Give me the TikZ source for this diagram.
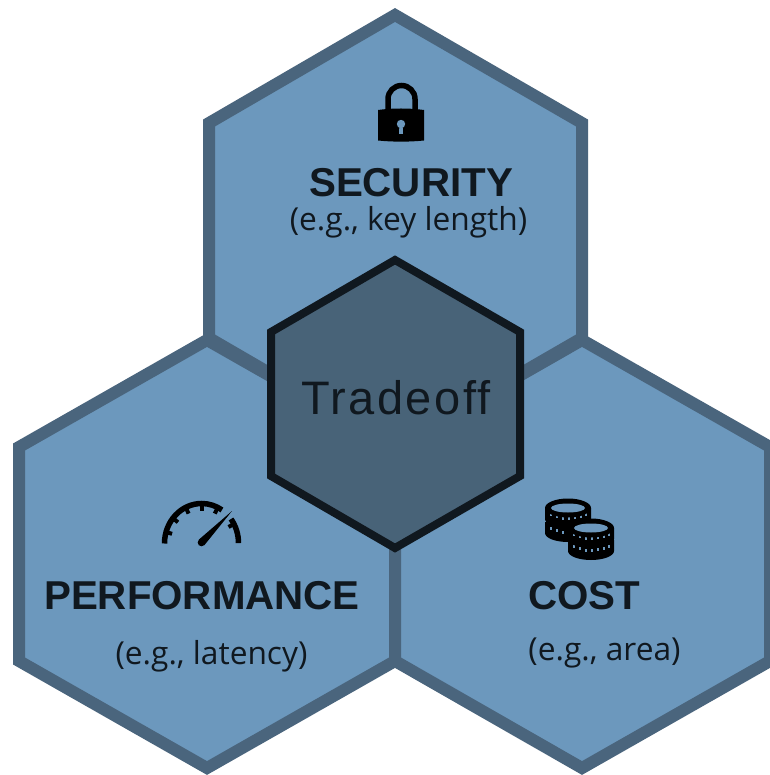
\documentclass[tikz,border=0pt]{standalone}
\usepackage{fontspec}
\setmainfont{Open Sans}
\newfontfamily\headfont{Liberation Sans}
\newfontfamily\tradefont[LetterSpace=5.2]{Liberation Sans}
\definecolor{hexfill}{HTML}{6C98BD}
\definecolor{hexline}{HTML}{4A657D}
\definecolor{midfill}{HTML}{486378}
\definecolor{ink}{HTML}{10181F}
\tikzset{
  hexa/.style={fill=hexfill,draw=hexline,line width=12pt,line join=miter,miter limit=10},
  midhex/.style={fill=midfill,draw=ink,line width=8pt,line join=miter,miter limit=10},
  headtext/.style={text=ink,inner sep=0pt,font=\headfont\fontsize{40.3}{40}\selectfont\bfseries},
  subtext/.style={text=ink,inner sep=0pt,font=\fontsize{31.7}{34}\selectfont},
  midtext/.style={text=ink,inner sep=0pt,font=\tradefont\fontsize{47}{47}\selectfont},
  iconfill/.style={fill=black,draw=none}
}
\newcommand{\coinband}[2]{%
  \fill[black] (#1-23,#2) -- (#1-23,#2+11) arc[x radius=23,y radius=9,start angle=180,end angle=0] -- (#1+23,#2) -- cycle;
  \foreach \dx/\dy in {-17/2.5,-11/5,-5/6.2,1/6.5,7/6,13/4.5,18/2.5}
    \fill[hexfill] (#1+\dx-1.4,#2+\dy+2.4) rectangle ++(2.8,3);
}
\newcommand{\cointop}[2]{%
  \fill[black] (#1,#2) ellipse[x radius=23,y radius=9.5];
  \fill[hexfill] (#1,#2) ellipse[x radius=17,y radius=4.5];
}
\begin{document}
\begin{tikzpicture}[x=1pt,y=-1pt]
\useasboundingbox (0,0) rectangle (769,775);
\fill[white] (0,0) rectangle (769,775);
% outer hexagons
\draw[hexa] (395,15) -- (582,123) -- (582,338) -- (395,446) -- (209,338) -- (209,123) -- cycle;
\draw[hexa] (207,340) -- (395,447) -- (395,661) -- (207,768) -- (19,661) -- (19,447) -- cycle;
\draw[hexa] (582,340) -- (770,447) -- (770,661) -- (582,768) -- (395,661) -- (395,447) -- cycle;
% centre hexagon
\draw[midhex] (395,260) -- (520,332) -- (520,476) -- (395,548) -- (271,476) -- (271,332) -- cycle;
% texts
\node[midtext] (trade) at (396,398) {Tradeoff};
\node[headtext] (sec) at (411,183) {SECURITY};
\node[subtext] (secsub) at (408.5,222) {(e.g., key length)};
\node[headtext] (perf) at (202,596) {PERFORMANCE};
\node[subtext] (perfsub) at (211.5,656) {(e.g., latency)};
\node[headtext] (cost) at (584.5,596) {COST};
\node[subtext] (costsub) at (604.5,653) {(e.g., area)};
% lock icon
\draw[black,line width=5.5pt] (388,111) -- (388,99) arc[start angle=180,end angle=360,radius=13.5] -- (415,111);
\fill[iconfill] (378,110) .. controls (392,108) and (410,108) .. (424,110) -- (424,140.5) .. controls (410,142) and (392,142) .. (378,140.5) -- cycle;
\fill[hexfill] (401,124) circle[radius=4.2];
\fill[hexfill] (399.4,125) -- (402.6,125) -- (403,134) -- (399,134) -- cycle;
% gauge icon
\draw[black,line width=5.5pt] (164.5,543.5) arc[start angle=180,end angle=303,x radius=37.2,y radius=40];
\draw[black,line width=5.5pt] (231,519) arc[start angle=323,end angle=360,x radius=37.2,y radius=40];
\foreach \a in {163,140,115,90,65,30}
  \draw[black,line width=4pt] ({201.7+37*cos(\a)},{543.5-39*sin(\a)}) -- ({201.7+31*cos(\a)},{543.5-33*sin(\a)});
\fill[iconfill] (232,511) -- (204.5,545) -- (199,539.5) -- cycle;
\fill[iconfill] (201.5,542.5) circle[radius=3.8];
% coin icon
\coinband{568}{522}
\coinband{568}{508}
\cointop{568}{508}
\coinband{591}{540}
\coinband{591}{528}
\cointop{591}{528}
\end{tikzpicture}
\end{document}
